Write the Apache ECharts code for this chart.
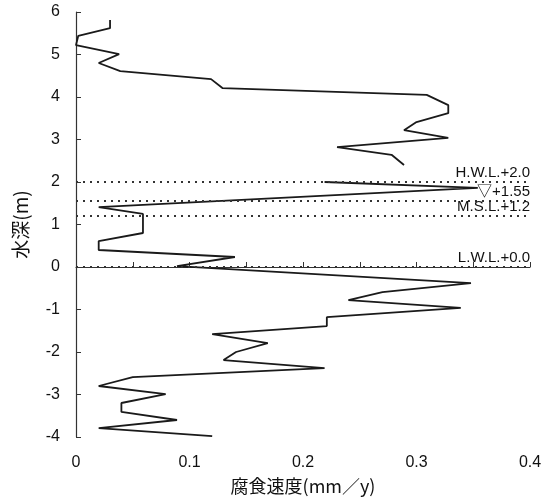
<!DOCTYPE html>
<html>
<head>
<meta charset="utf-8">
<script src="https://cdn.jsdelivr.net/npm/echarts@6/dist/echarts.min.js"></script>
<style>
html,body{margin:0;padding:0;background:#fff;}
#chart{width:547px;height:501px;}
</style>
</head>
<body>
<div id="chart"></div>
<script>
// Upper profile (above the gap)
var depthUpper = [5.81, 5.62, 5.44, 5.22, 5.01, 4.80, 4.61, 4.42, 4.21, 4.05, 3.81, 3.62, 3.41, 3.22, 3.04, 2.82, 2.64, 2.40];
var rateUpper  = [0.030, 0.030, 0.002, 0.000, 0.038, 0.020, 0.039, 0.119, 0.129, 0.309, 0.328, 0.328, 0.300, 0.289, 0.328, 0.230, 0.278, 0.289];
// Lower profile
var depthLower = [2.00, 1.86, 1.41, 1.25, 0.80, 0.61, 0.40, 0.235, 0.02, -0.38, -0.59, -0.78, -0.96, -1.18, -1.39, -1.58, -1.79, -2.00, -2.19, -2.38, -2.59, -2.80, -2.99, -3.20, -3.41, -3.60, -3.79, -3.98];
var rateLower  = [0.219, 0.354, 0.020, 0.059, 0.059, 0.020, 0.020, 0.140, 0.089, 0.348, 0.270, 0.240, 0.339, 0.221, 0.221, 0.120, 0.169, 0.141, 0.130, 0.219, 0.050, 0.020, 0.079, 0.040, 0.040, 0.089, 0.020, 0.120];
// Reference water levels
var levelValues = [2.0, 1.55, 1.2, 0.0];
var levelLabels = ['H.W.L.+2.0', '▽+1.55', 'M.S.L.+1.2', 'L.W.L.+0.0'];

function pairs(xs, ys){ return xs.map(function(x,i){ return [x, ys[i]]; }); }

var fontFam = "'Liberation Sans', 'Noto Sans CJK JP', sans-serif";
var chart = echarts.init(document.getElementById('chart'));
var lineStyle = {color:'#1a1a1a', width:1.8};
chart.setOption({
  animation:false,
  grid:{left:76, right:17, top:12, bottom:64},
  xAxis:{
    type:'value', min:0, max:0.4, interval:0.05,
    name:'腐食速度(mm／y)', nameLocation:'middle', nameGap:40,
    nameTextStyle:{color:'#111', fontSize:18, fontFamily:"'Noto Sans CJK JP', sans-serif"},
    axisLine:{show:true, lineStyle:{color:'#333', width:1.2}},
    axisTick:{show:true, inside:true, length:5, lineStyle:{color:'#333'}},
    axisLabel:{color:'#111', fontSize:16, margin:18, fontFamily:fontFam,
      formatter:function(v){ var r=Math.round(v*100); if(r%10!==0) return ''; return r===0?'0':String(r/100); }},
    splitLine:{show:false}
  },
  yAxis:{
    type:'value', min:-4, max:6, interval:1,
    name:'水深(m)', nameLocation:'middle', nameGap:46, nameRotate:90,
    nameTextStyle:{color:'#111', fontSize:19, fontFamily:"'Noto Sans CJK JP', sans-serif"},
    axisLine:{show:true, lineStyle:{color:'#333', width:1.2}},
    axisTick:{show:true, inside:true, length:5, lineStyle:{color:'#333'}},
    axisLabel:{color:'#111', fontSize:16, margin:16, fontFamily:fontFam},
    splitLine:{show:false}
  },
  series:[
    {type:'line', data:pairs(rateUpper, depthUpper), showSymbol:false, symbol:'none', lineStyle:lineStyle, z:3},
    {type:'line', data:pairs(rateLower, depthLower), showSymbol:false, symbol:'none', lineStyle:lineStyle, z:3,
      markLine:{
        silent:true, symbol:'none',
        lineStyle:{color:'#333', type:[2,5], width:1.8},
        label:{position:'insideEndTop', color:'#111', fontSize:15, fontFamily:fontFam, distance:[0,2]},
        data: levelValues.map(function(v,i){ return {yAxis:v, label:{formatter:levelLabels[i]}}; })
      }
    }
  ]
});
</script>
</body>
</html>
